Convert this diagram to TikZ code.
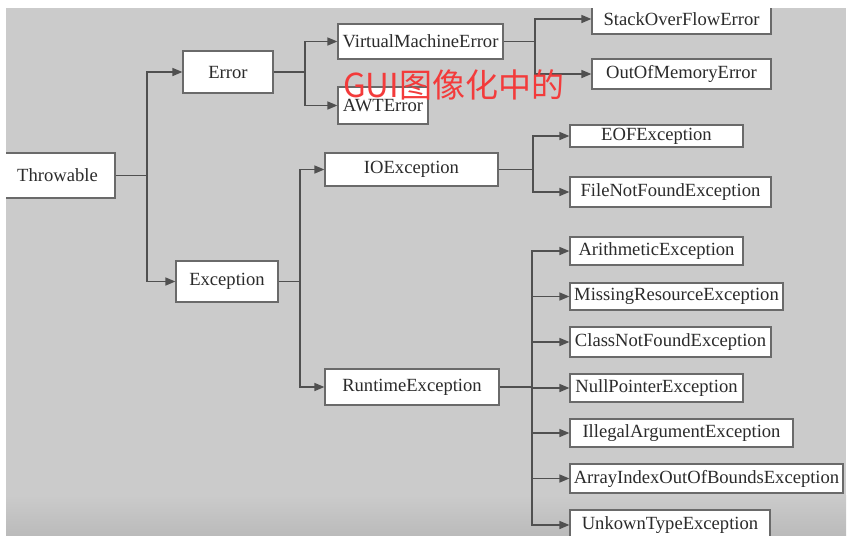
\documentclass[tikz,border=0pt]{standalone}
\usepackage{fontspec}
\setmainfont{Liberation Serif}
\newfontfamily\cjk{Noto Sans CJK SC}
\usepackage{tikz}
\usetikzlibrary{arrows.meta}
\definecolor{fondo}{HTML}{CBCBCB}
\definecolor{borde}{HTML}{6A6A6A}
\definecolor{linea}{HTML}{505050}
\definecolor{texto}{HTML}{2B2B2B}
\definecolor{rojo}{HTML}{F33B3B}

\tikzset{
  caja/.style={draw=borde, fill=white, line width=1.2pt, inner sep=0pt,
    text=texto, font=\fontsize{18.6}{20}\selectfont},
  conector/.style={draw=linea, line width=1.5pt},
  flecha/.style={conector, -{Triangle[length=10pt,width=8pt]}}
}

\begin{document}
\begin{tikzpicture}[x=1pt,y=-1pt]
  \useasboundingbox (0,0) rectangle (849,542);
  \begin{scope}
  \clip (6,8) rectangle (846,535);
  % Fondo
  \fill[fondo] (6,8) rectangle (846,535);
  \shade[top color=fondo, bottom color=fondo!92!black] (6,495) rectangle (846,535);
  % Cajas
  \node[caja, minimum width=115pt, minimum height=45pt] (thr) at (57.5,175.5) {Throwable};
  \node[caja, minimum width=90pt, minimum height=42pt] (err) at (228,72) {Error};
  \node[caja, minimum width=102pt, minimum height=41pt] (exc) at (227,281.5) {Exception};
  \node[caja, minimum width=165pt, minimum height=35pt] (vme) at (420.5,41.5) {VirtualMachineError};
  \node[caja, minimum width=90pt, minimum height=37pt] (awt) at (383,105.5) {AWTError};
  \node[caja, minimum width=179pt, minimum height=30pt] (sof) at (681.5,19) {StackOverFlowError};
  \node[caja, minimum width=179pt, minimum height=30pt] (oom) at (681.5,74) {OutOfMemoryError};
  \node[caja, minimum width=173pt, minimum height=33pt] (io) at (411.5,169.5) {IOException};
  \node[caja, minimum width=174pt, minimum height=36pt] (rt) at (412,387) {RuntimeException};
  \node[caja, minimum width=173pt, minimum height=22pt] (eof) at (656.5,136) {EOFException};
  \node[caja, minimum width=201pt, minimum height=30pt] (fnf) at (670.5,192) {FileNotFoundException};
  \node[caja, minimum width=173pt, minimum height=28pt] (ari) at (656.5,251) {ArithmeticException};
  \node[caja, minimum width=213pt, minimum height=27pt] (mis) at (676.5,296.5) {MissingResourceException};
  \node[caja, minimum width=201pt, minimum height=30pt] (cnf) at (670.5,342) {ClassNotFoundException};
  \node[caja, minimum width=173pt, minimum height=28pt] (npe) at (656.5,388) {NullPointerException};
  \node[caja, minimum width=223pt, minimum height=28pt] (ill) at (681.5,433) {IllegalArgumentException};
  \node[caja, minimum width=273pt, minimum height=29pt] (aio) at (706.5,478.5) {ArrayIndexOutOfBoundsException};
  \node[caja, minimum width=200pt, minimum height=30pt] (unk) at (670,525) {UnkownTypeException};
  % Puntos de ramificacion
  \coordinate (jthr) at (147,175.5);
  \coordinate (jerr) at (305,72);
  \coordinate (jvme) at (535,41.5);
  \coordinate (jexc) at (300,281.5);
  \coordinate (jio) at (533,169.5);
  \coordinate (jrt) at (532,387);
  % Conectores
  \draw[conector] (thr.east) -- (jthr);
  \foreach \hijo in {err,exc}
    \draw[flecha] (jthr) |- (\hijo);
  \draw[conector] (err.east) -- (jerr);
  \foreach \hijo in {vme,awt}
    \draw[flecha] (jerr) |- (\hijo);
  \draw[conector] (vme.east) -- (jvme);
  \foreach \hijo in {sof,oom}
    \draw[flecha] (jvme) |- (\hijo);
  \draw[conector] (exc.east) -- (jexc);
  \foreach \hijo in {io,rt}
    \draw[flecha] (jexc) |- (\hijo);
  \draw[conector] (io.east) -- (jio);
  \foreach \hijo in {eof,fnf}
    \draw[flecha] (jio) |- (\hijo);
  \draw[conector] (rt.east) -- (jrt);
  \foreach \hijo in {ari,mis,cnf,npe,ill,aio,unk}
    \draw[flecha] (jrt) |- (\hijo);
  % Texto rojo
  \node[anchor=base west, inner sep=0pt, text=rojo, font=\cjk\fontsize{33}{35}\selectfont] (nota) at (343,97) {GUI图像化中的};
  \end{scope}
\end{tikzpicture}
\end{document}
